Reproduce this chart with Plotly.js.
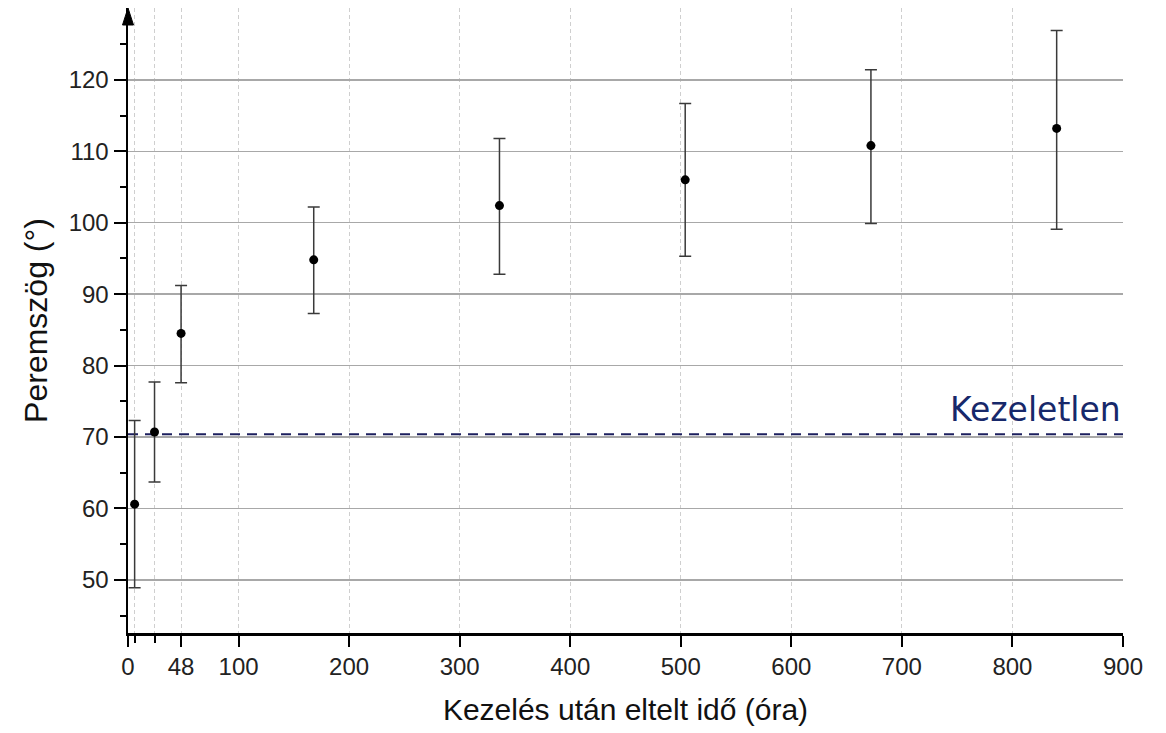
<!DOCTYPE html>
<html>
<head>
<meta charset="utf-8">
<script src="https://cdn.plot.ly/plotly-3.0.1.min.js"></script>
<style>html,body{margin:0;padding:0;background:#fff;}#chart{width:1166px;height:733px;}</style>
</head>
<body>
<div id="chart"></div>
<script>
// Data
const hours = [6, 24, 48, 168, 336, 504, 672, 840];
const angle = [60.6, 70.7, 84.5, 94.8, 102.4, 106.0, 110.8, 113.2];
const errPlus = [11.7, 7.0, 6.7, 7.4, 9.4, 10.7, 10.6, 13.7];
const errMinus = [11.7, 7.0, 6.9, 7.5, 9.6, 10.7, 10.9, 14.1];
const untreatedValue = 70.4;
const untreatedLabel = "Kezeletlen";
const untreatedX = [0, 900];
const xTickVals = [0, 48, 100, 200, 300, 400, 500, 600, 700, 800, 900];
const xTickText = ["0", "48", "100", "200", "300", "400", "500", "600", "700", "800", "900"];
const xMinorVals = [6, 24];
const yTickVals = [50, 60, 70, 80, 90, 100, 110, 120];
const yMinorVals = [45, 55, 65, 75, 85, 95, 105, 115, 125];

const traces = [
  {
    x: untreatedX,
    y: untreatedX.map(() => untreatedValue),
    mode: "lines",
    line: {color: "#1c1f5e", width: 2, dash: "10px,7px"},
    hoverinfo: "skip",
    showlegend: false
  },
  {
    x: hours,
    y: angle,
    mode: "markers",
    marker: {color: "#000", size: 9},
    error_y: {type: "data", symmetric: false, array: errPlus, arrayminus: errMinus,
              color: "#3a3a3a", thickness: 1.5, width: 6},
    showlegend: false
  }
];

const layout = {
  width: 1166, height: 733,
  margin: {l: 128, r: 43, t: 8, b: 100},
  paper_bgcolor: "#fff", plot_bgcolor: "#fff",
  font: {family: "Liberation Sans, Arial, sans-serif", color: "#222"},
  xaxis: {
    range: [0, 900],
    tickmode: "array", tickvals: xTickVals, ticktext: xTickText,
    ticks: "outside", ticklen: 11, tickwidth: 2, tickcolor: "#000",
    tickfont: {size: 24, color: "#222"},
    showline: true, linecolor: "#000", linewidth: 2.5,
    showgrid: true, gridcolor: "#cfcfcf", griddash: "4px,3px", gridwidth: 1,
    zeroline: false,
    minor: {tickmode: "array", tickvals: xMinorVals, ticks: "outside", ticklen: 7, tickwidth: 2,
            tickcolor: "#000", showgrid: true, gridcolor: "#cfcfcf", griddash: "4px,3px", gridwidth: 1},
    title: {text: "Kezelés után eltelt idő (óra)", font: {size: 30, color: "#111"}, standoff: 20}
  },
  yaxis: {
    range: [42.56, 130.06],
    tickmode: "array", tickvals: yTickVals,
    ticks: "outside", ticklen: 12, tickwidth: 2, tickcolor: "#000",
    tickfont: {size: 24, color: "#222"},
    showline: true, linecolor: "#000", linewidth: 2.5,
    showgrid: true, gridcolor: "#a8a8a8", gridwidth: 1.5,
    zeroline: false,
    minor: {tickmode: "array", tickvals: yMinorVals, ticks: "outside", ticklen: 6, tickwidth: 2,
            tickcolor: "#000", showgrid: false},
    title: {text: "Peremszög (°)", font: {size: 32, color: "#111"}, standoff: 12}
  },
  shapes: [
    {
      type: "path", xref: "paper", yref: "paper",
      xsizemode: "pixel", ysizemode: "pixel", xanchor: 0, yanchor: 1,
      path: "M-5.5,-17 L0,0 L5.5,-17 Z",
      fillcolor: "#000", line: {color: "#000", width: 1}
    }
  ],
  annotations: [
    {
      x: untreatedX[1], y: untreatedValue, xref: "x", yref: "y",
      text: untreatedLabel, showarrow: false,
      xanchor: "right", yanchor: "bottom", yshift: 3,
      font: {family: "DejaVu Sans, Verdana, sans-serif", size: 33, color: "#17286a"}
    }
  ]
};

Plotly.newPlot("chart", traces, layout, {displayModeBar: false, staticPlot: true});
</script>
</body>
</html>
